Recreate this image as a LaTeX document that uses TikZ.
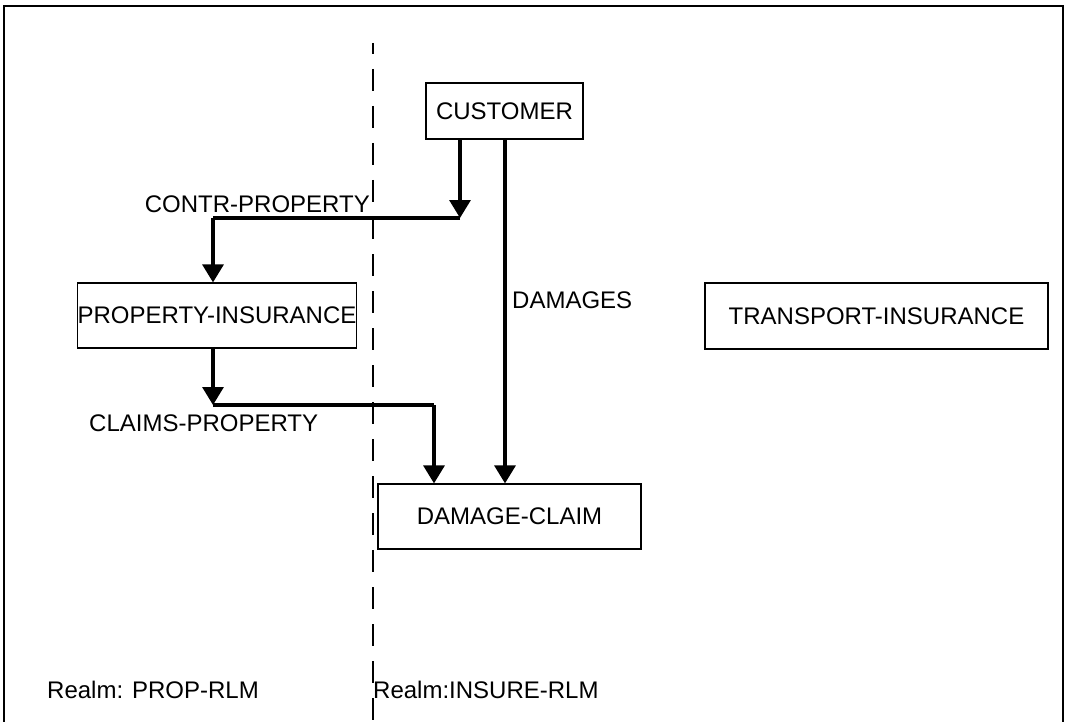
\documentclass[tikz,border=0pt]{standalone}
\usepackage{fontspec}
\setmainfont{Liberation Sans}
\usetikzlibrary{arrows.meta}
\begin{document}
\begin{tikzpicture}[x=1pt,y=-1pt,
  box/.style={draw,line width=1.2pt,rectangle,inner sep=0pt,font=\fontsize{24}{28}\selectfont},
  lbl/.style={inner sep=0pt,font=\fontsize{24}{28}\selectfont},
  conn/.style={line width=3.2pt,-{Triangle[length=18pt,width=21pt]}},
  plain/.style={line width=3.2pt}]
\useasboundingbox (0,0) rectangle (1067,722);
% frame (open at bottom)
\draw[line width=2pt] (4,722) -- (4,6) -- (1063,6) -- (1063,722);
% realm divider
\draw[line width=1.2pt,dash pattern=on 22pt off 15pt,dash phase=11pt] (373,43) -- (373,722);
% boxes
\node[box,minimum width=157pt,minimum height=56pt] (cust) at (504.5,111) {CUSTOMER};
\node[box,minimum width=276pt,minimum height=65pt] (prop) at (217,315.5) {PROPERTY-INSURANCE};
\node[box,minimum width=343pt,minimum height=66pt] (trans) at (876.5,316) {TRANSPORT-INSURANCE};
\node[box,minimum width=263pt,minimum height=65pt] (dmg) at (509.5,516.5) {DAMAGE-CLAIM};
% connectors
\coordinate (c1) at (460,218);
\coordinate (c2) at (213,218);
\coordinate (c3) at (213,405);
\coordinate (c4) at (434,405);
\draw[conn] (cust.south -| c1) -- (c1);
\draw[plain] (c1) -- (c2);
\draw[conn] (c2) -- (prop.north -| c2);
\draw[conn] (prop.south -| c3) -- (c3);
\draw[plain] (c3) -- (c4);
\draw[conn] (c4) -- (dmg.north -| c4);
\coordinate (d) at (505,0);
\draw[conn] (cust.south -| d) -- (dmg.north -| d);
% labels
\node[lbl,anchor=east] (lcp) at (370,204) {CONTR-PROPERTY};
\node[lbl,anchor=west] (ldm) at (512,300) {DAMAGES};
\node[lbl,anchor=west] (lcl) at (89,423) {CLAIMS-PROPERTY};
\node[lbl,anchor=west] (lr1) at (47,690) {Realm: PROP-RLM};
\node[lbl,anchor=west] (lr2) at (373,690) {Realm:INSURE-RLM};
\end{tikzpicture}
\end{document}
